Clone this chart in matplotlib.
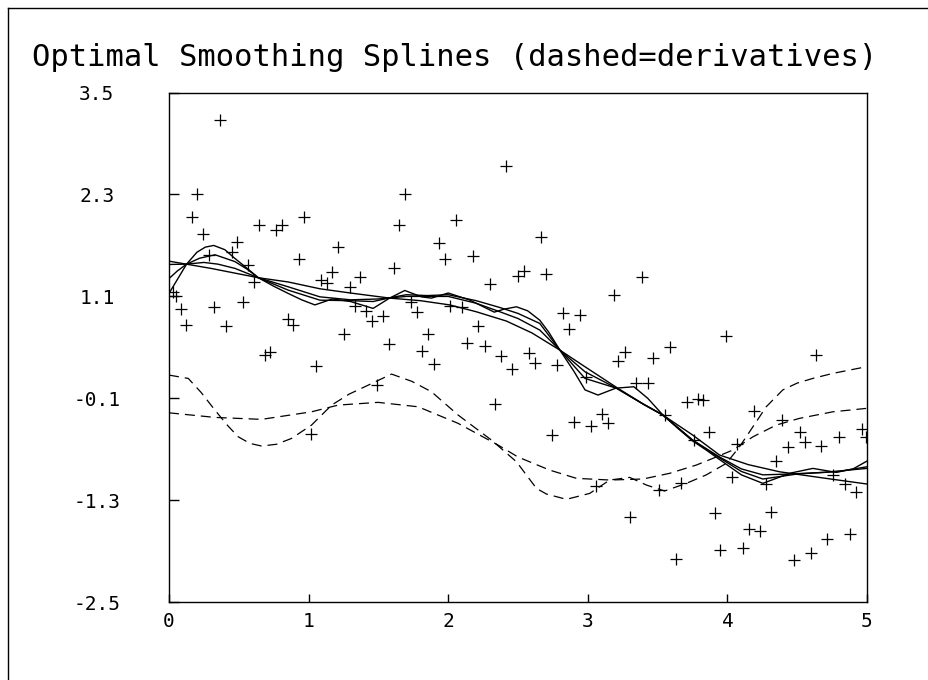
import matplotlib
matplotlib.use("Agg")
import matplotlib.pyplot as plt
from matplotlib.lines import Line2D

# ---------------- data ----------------
pts_x = [0.365, 0.203, 0.162, 0.243, 0.969, 0.647, 0.766, 0.809, 0.487, 0.286,
         0.449, 0.568, 0.928, 1.212, 1.650, 1.613, 0.606, 1.090, 1.129, 1.169,
         1.293, 1.370, 0.030, 0.050, 0.084, 0.324, 0.527, 0.122, 0.406, 0.850,
         0.890, 1.250, 1.329, 1.410, 1.453, 1.530, 1.573, 0.690, 0.725, 1.050,
         1.016, 1.491,
         2.417, 1.694, 2.057, 1.935, 2.663, 1.976, 2.178, 2.298, 2.541, 2.500,
         2.704, 3.185, 1.732, 1.775, 2.011, 2.097, 1.856, 2.217, 2.823, 2.942,
         2.863, 2.138, 2.262,
         1.813, 1.895, 2.381, 2.460, 2.579, 2.622, 2.782, 2.338, 2.741, 2.902,
         3.023, 3.104, 3.145, 2.985, 3.219, 3.266, 3.061, 3.300,
         3.467, 3.591, 4.636, 3.343, 3.429, 3.708, 3.792, 3.825, 3.550, 4.190,
         3.868, 3.758, 4.393, 4.517, 4.558, 4.433, 4.672, 4.796, 4.961, 4.994,
         4.068, 4.350, 4.035, 4.278, 4.755, 4.839, 4.918, 3.508, 3.670, 3.911,
         4.314, 4.152, 4.231, 3.949, 4.109, 3.629, 4.474, 4.596, 4.717, 4.875,
         3.388, 3.987]
pts_y = [3.18, 2.31, 2.04, 1.83, 2.04, 1.94, 1.88, 1.94, 1.74, 1.59,
         1.62, 1.47, 1.54, 1.68, 1.94, 1.44, 1.27, 1.29, 1.26, 1.39,
         1.21, 1.33, 1.15, 1.10, 0.95, 0.98, 1.04, 0.76, 0.75, 0.84,
         0.76, 0.66, 0.99, 0.93, 0.81, 0.87, 0.54, 0.41, 0.44, 0.28,
         -0.52, 0.06,
         2.64, 2.31, 2.00, 1.73, 1.80, 1.54, 1.58, 1.25, 1.40, 1.34,
         1.36, 1.12, 1.04, 0.92, 0.99, 0.97, 0.66, 0.75, 0.90, 0.88,
         0.72, 0.55, 0.52,
         0.46, 0.30, 0.40, 0.25, 0.43, 0.32, 0.29, -0.17, -0.53, -0.38,
         -0.42, -0.28, -0.39, 0.15, 0.34, 0.45, -1.13, -1.50,
         0.37, 0.50, 0.41, 0.08, 0.08, -0.14, -0.11, -0.12, -0.30, -0.25,
         -0.49, -0.59, -0.35, -0.50, -0.61, -0.67, -0.66, -0.55, -0.46, -0.56,
         -0.64, -0.84, -1.03, -1.11, -1.00, -1.11, -1.20, -1.18, -1.10, -1.45,
         -1.44, -1.64, -1.66, -1.88, -1.86, -1.99, -2.00, -1.92, -1.76, -1.70,
         1.33, 0.63]

# solid smoothing splines (least to most smoothing)
s1_x = [0.0, 0.06, 0.126, 0.2, 0.26, 0.32, 0.4, 0.472, 0.56, 0.64, 0.75, 0.854, 0.95,
        1.045, 1.17, 1.3, 1.462, 1.58, 1.689, 1.809, 1.88, 2.0, 2.15, 2.33, 2.40,
        2.489, 2.57, 2.656, 2.72, 2.8, 2.9, 2.98, 3.073, 3.2, 3.33, 3.43, 3.538,
        3.65, 3.75, 3.85, 3.944, 4.1, 4.254, 4.45, 4.612, 4.78, 4.9, 5.0]
s1_y = [1.135, 1.30, 1.48, 1.62, 1.68, 1.70, 1.65, 1.547, 1.43, 1.32, 1.22, 1.135, 1.06,
        1.00, 1.07, 1.04, 0.959, 1.08, 1.17, 1.095, 1.08, 1.14, 1.06, 0.915, 0.95,
        0.978, 0.93, 0.82, 0.68, 0.468, 0.22, 0.0, -0.061, 0.02, 0.037, -0.10, -0.296,
        -0.46, -0.60, -0.71, -0.82, -1.00, -1.10, -0.98, -0.924, -0.971, -0.93, -0.838]

s2_x = [0.0, 0.06, 0.126, 0.22, 0.33, 0.472, 0.56, 0.64, 0.854, 1.081, 1.3, 1.462,
        1.6, 1.7, 1.85, 2.0, 2.2, 2.369, 2.5, 2.656, 2.8, 2.98, 3.205, 3.4, 3.538,
        3.75, 3.944, 4.1, 4.254, 4.5, 4.8, 5.0]
s2_y = [1.31, 1.40, 1.48, 1.55, 1.59, 1.51, 1.42, 1.32, 1.174, 1.056, 1.05, 1.04,
        1.09, 1.12, 1.11, 1.12, 1.05, 0.97, 0.90, 0.782, 0.468, 0.135, 0.02, -0.17, -0.296,
        -0.59, -0.80, -0.96, -1.049, -0.99, -0.96, -0.905]

s3_x = [0.0, 0.126, 0.25, 0.35, 0.472, 0.64, 0.854, 1.081, 1.3, 1.5, 1.7, 2.0, 2.2,
        2.369, 2.5, 2.656, 2.8, 2.98, 3.205, 3.4, 3.538, 3.75, 3.944, 4.1, 4.254,
        4.45, 4.7, 5.0]
s3_y = [1.476, 1.48, 1.50, 1.48, 1.43, 1.32, 1.213, 1.095, 1.06, 1.07, 1.10, 1.10, 1.02,
        0.92, 0.84, 0.704, 0.468, 0.213, 0.02, -0.17, -0.296, -0.59, -0.79, -0.93, -1.0,
        -0.99, -0.97, -0.924]

s4_x = [0.0, 0.3, 0.64, 0.854, 1.081, 1.3, 1.582, 1.8, 2.011, 2.2, 2.417, 2.6, 2.8,
        2.98, 3.205, 3.4, 3.538, 3.75, 3.944, 4.15, 4.374, 4.7, 5.0]
s4_y = [1.515, 1.43, 1.32, 1.27, 1.19, 1.14, 1.08, 1.05, 1.0, 0.92, 0.81, 0.67, 0.468,
        0.272, 0.03, -0.17, -0.296, -0.53, -0.767, -0.88, -0.964, -1.04, -1.108]

# dashed derivative curves
d1_x = [0.0, 0.138, 0.23, 0.329, 0.42, 0.496, 0.58, 0.663, 0.77, 0.878, 1.021, 1.165,
        1.29, 1.403, 1.594, 1.74, 1.88, 2.071, 2.31, 2.489, 2.632, 2.704, 2.847,
        3.014, 3.157, 3.3, 3.42, 3.55, 3.706, 3.849, 3.992, 4.087, 4.183, 4.278,
        4.397, 4.5, 4.612, 4.755, 4.994]
d1_y = [0.174, 0.135, -0.03, -0.238, -0.42, -0.552, -0.63, -0.661, -0.64, -0.571, -0.414,
        -0.179, -0.05, 0.037, 0.186, 0.10, -0.022, -0.296, -0.591, -0.846, -1.159, -1.226,
        -1.288, -1.218, -1.061, -1.03, -1.12, -1.19, -1.10, -1.0, -0.865, -0.669, -0.434,
        -0.199, 0.0, 0.08, 0.135, 0.194, 0.272]

d2_x = [0.0, 0.329, 0.663, 1.021, 1.212, 1.498, 1.785, 2.071, 2.357, 2.5, 2.727,
        2.918, 3.157, 3.395, 3.586, 3.777, 3.896, 4.039, 4.183, 4.35, 4.517, 4.755,
        4.994]
d2_y = [-0.27, -0.324, -0.347, -0.258, -0.179, -0.147, -0.199, -0.394, -0.649, -0.79,
        -0.944, -1.041, -1.061, -1.049, -0.982, -0.885, -0.806, -0.708, -0.552, -0.414,
        -0.335, -0.258, -0.218]

y_ticks = [-2.5, -1.3, -0.1, 1.1, 2.3, 3.5]
y_tick_labels = ["-2.5", "-1.3", "-0.1", "1.1", "2.3", "3.5"]
x_ticks = [0, 1, 2, 3, 4, 5]
x_tick_labels = ["0", "1", "2", "3", "4", "5"]
title = "Optimal Smoothing Splines (dashed=derivatives)"

# ---------------- figure ----------------
plt.rcParams['font.family'] = ['DejaVu Sans Mono', 'DejaVu Sans']
plt.rcParams['lines.scale_dashes'] = False

W, H = 929, 680
fig = plt.figure(figsize=(W / 100, H / 100), dpi=100)
fig.patch.set_facecolor('white')

left, right, top, bottom = 169, 867, 92.5, 602.3
ax = fig.add_axes([left / W, 1 - bottom / H, (right - left) / W, (bottom - top) / H])

ax.plot(pts_x, pts_y, linestyle='none', marker='+', color='black',
        markersize=8.5, markeredgewidth=0.9)
for xs, ys in [(s1_x, s1_y), (s2_x, s2_y), (s3_x, s3_y), (s4_x, s4_y)]:
    ax.plot(xs, ys, color='black', linewidth=1.0)
for xs, ys in [(d1_x, d1_y), (d2_x, d2_y)]:
    ax.plot(xs, ys, color='black', linewidth=0.9, dashes=(7.2, 4.3))

ax.set_xlim(0, 5)
ax.set_ylim(-2.5, 3.5)
ax.set_xticks(x_ticks)
ax.set_xticklabels(x_tick_labels)
ax.set_yticks(y_ticks)
ax.set_yticklabels(y_tick_labels, ha='center')
ax.tick_params(axis='y', direction='in', length=7, width=1.0, pad=52, labelsize=14)
ax.tick_params(axis='x', direction='in', length=6, width=1.0, pad=7, labelsize=14)
for sp in ax.spines.values():
    sp.set_linewidth(1.0)

fig.text(455 / W, 1 - 57 / H, title, ha='center', va='center', fontsize=22)

# outer frame (left and top edges visible)
fig.add_artist(Line2D([8 / W, 8 / W], [0, 1 - 8 / H], transform=fig.transFigure,
                      color='black', linewidth=1.0))
fig.add_artist(Line2D([8 / W, 1], [1 - 8 / H, 1 - 8 / H], transform=fig.transFigure,
                      color='black', linewidth=1.0))

fig.savefig('out.png', dpi=100)
